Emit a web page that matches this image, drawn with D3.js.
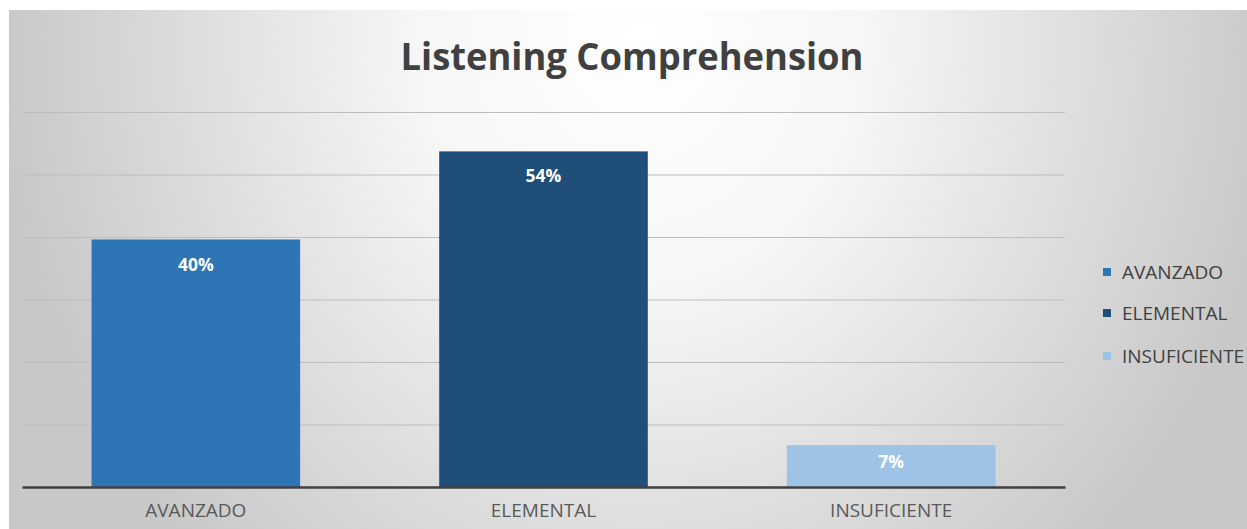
<!DOCTYPE html>
<html><head><meta charset="utf-8">
<script src="https://cdn.jsdelivr.net/npm/d3@7"></script>
<style>html,body{margin:0;padding:0;background:#fff;}svg{display:block;}</style>
</head><body>
<svg id="c" width="1247" height="529"></svg>
<script>
const categories = ["AVANZADO", "ELEMENTAL", "INSUFICIENTE"];
const values = [39.6, 53.7, 6.7];
const labels = ["40%", "54%", "7%"];
const colors = ["#2E75B6", "#1F4E79", "#9DC3E6"];
const yTicks = [0, 10, 20, 30, 40, 50, 60];
const title = "Listening Comprehension";

const svg = d3.select("#c");
const defs = svg.append("defs");
const grad = defs.append("radialGradient").attr("id", "bg")
  .attr("gradientUnits", "userSpaceOnUse")
  .attr("cx", 640).attr("cy", 40).attr("r", 640)
  .attr("gradientTransform", "translate(640,40) scale(1,1.1) translate(-640,-40)");
grad.append("stop").attr("offset", "0").attr("stop-color", "#ffffff");
grad.append("stop").attr("offset", "0.35").attr("stop-color", "#f6f6f6");
grad.append("stop").attr("offset", "1").attr("stop-color", "#c8c8c8");

svg.append("rect").attr("x", 9).attr("y", 10).attr("width", 1238).attr("height", 519).attr("fill", "url(#bg)");

const x0 = 22, x1 = 1065, yBase = 487, yTop = 112;
const x = d3.scaleBand().domain(categories).range([x0, x1]).paddingInner(0.4).paddingOuter(0.2);
const y = d3.scaleLinear().domain([0, 60]).range([yBase, yTop]);

// gridlines
svg.append("g").selectAll("line").data(yTicks.filter(d => d > 0)).join("line")
  .attr("x1", x0).attr("x2", x1)
  .attr("y1", d => y(d) + 0.5).attr("y2", d => y(d) + 0.5)
  .attr("stroke", "#bdbdbd").attr("stroke-width", 1);

// bars
svg.append("g").selectAll("rect").data(values).join("rect")
  .attr("x", (d, i) => x(categories[i]))
  .attr("width", x.bandwidth())
  .attr("y", d => y(d))
  .attr("height", d => yBase - y(d))
  .attr("fill", (d, i) => colors[i]);

// data labels
svg.append("g").selectAll("text").data(values).join("text")
  .attr("x", (d, i) => x(categories[i]) + x.bandwidth() / 2)
  .attr("y", d => { const h = yBase - y(d); return y(d) + Math.min(31, h * 0.55); })
  .attr("text-anchor", "middle")
  .attr("font-family", "'Open Sans', sans-serif").attr("font-weight", "bold")
  .attr("font-size", 17.5).attr("fill", "#ffffff")
  .text((d, i) => labels[i]);

// baseline axis
const xAxis = d3.axisBottom(x).tickSize(0).tickPadding(17);
const ax = svg.append("g").attr("transform", `translate(0,${yBase})`).call(xAxis);
ax.select(".domain").attr("stroke", "#404040").attr("stroke-width", 2.5);
ax.selectAll("text").attr("font-family", "'Open Sans', sans-serif").attr("font-size", 19).attr("fill", "#595959");

// title
svg.append("text").attr("x", 632).attr("y", 70).attr("text-anchor", "middle")
  .attr("font-family", "'Open Sans', sans-serif").attr("font-weight", "bold")
  .attr("font-size", 37).attr("fill", "#404040")
  .attr("textLength", 463).attr("lengthAdjust", "spacingAndGlyphs")
  .text(title);

// legend
const lg = svg.append("g");
const ly = [272, 313, 356];
categories.forEach((c, i) => {
  lg.append("rect").attr("x", 1103).attr("y", ly[i] - 4).attr("width", 8).attr("height", 8).attr("fill", colors[i]);
  lg.append("text").attr("x", 1122).attr("y", ly[i] + 7)
    .attr("font-family", "'Open Sans', sans-serif").attr("font-size", 19).attr("fill", "#404040")
    .text(c);
});
</script>
</body></html>
